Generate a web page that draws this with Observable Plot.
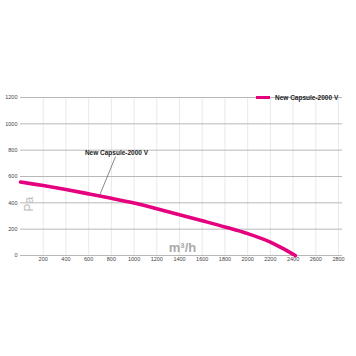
<!DOCTYPE html>
<html><head><meta charset="utf-8">
<script src="https://cdn.jsdelivr.net/npm/d3@7"></script>
<script src="https://cdn.jsdelivr.net/npm/@observablehq/plot@0.6"></script>
<style>
body{margin:0;background:#fff;font-family:"Liberation Sans Narrow","Liberation Sans",sans-serif;}
#wrap{position:relative;width:356px;height:356px;}
#legend{position:absolute;left:256px;top:94px;display:flex;align-items:center;font:bold 6.5px "Liberation Sans",sans-serif;color:#222;}
#legend span.sw{display:inline-block;width:14px;height:3px;background:#e5007d;margin-right:5px;}
</style></head>
<body><div id="wrap"><div id="legend"><span class="sw"></span><span id="legtext"></span></div></div>
<script>
const seriesName = "New Capsule-2000 V";
const flow = [0, 200, 400, 600, 800, 1000, 1200, 1400, 1600, 1800, 2000, 2200, 2300, 2420];
const pressure = [558, 531, 501, 468, 434, 398, 355, 310, 264, 217, 166, 102, 58, 0];
const xTicks = [200, 400, 600, 800, 1000, 1200, 1400, 1600, 1800, 2000, 2200, 2400, 2600, 2800];
const yTicks = [0, 200, 400, 600, 800, 1000, 1200];
const annotationFlow = 700;
const yLabel = "Pa";
const xLabel = "m³/h";

const data = flow.map((f, i) => ({flow: f, pressure: pressure[i]}));
const annP = d3.scaleLinear().domain(flow).range(pressure)(annotationFlow);
const magenta = "#e5007d";

document.getElementById("legtext").textContent = seriesName;

const annotate = (index, {x, y}) => {
  const px = x(annotationFlow), py = y(annP);
  const g = d3.create("svg:g");
  g.append("line").attr("x1", px).attr("y1", py).attr("x2", px + 16).attr("y2", py - 39)
    .attr("stroke", "#555").attr("stroke-width", 0.7);
  g.append("text").attr("x", px + 17).attr("y", py - 41).text(seriesName)
    .attr("font-family", "Liberation Sans, sans-serif").attr("font-weight", "bold")
    .attr("font-size", 6.5).attr("fill", "#222");
  return g.node();
};

const chart = Plot.plot({
  width: 356, height: 356,
  marginLeft: 20, marginRight: 14, marginTop: 97, marginBottom: 101,
  style: {fontFamily: "Liberation Sans Narrow, Liberation Sans, sans-serif", background: "transparent"},
  x: {domain: [0, 2835]},
  y: {domain: [0, 1200]},
  marks: [
    Plot.gridX(xTicks, {stroke: "#e3e3e3", strokeOpacity: 1, strokeWidth: 0.8}),
    Plot.gridY(yTicks, {stroke: "#b8b8b8", strokeOpacity: 1, strokeWidth: 1}),
    Plot.axisX(xTicks, {tickSize: 0, tickPadding: 2, fontSize: 5.5, fill: "#444", label: null, tickFormat: d3.format("d")}),
    Plot.axisY(yTicks, {tickSize: 0, tickPadding: 3, fontSize: 5.5, fill: "#444", label: null, tickFormat: d3.format("d")}),
    Plot.text([yLabel], {frameAnchor: "left", dx: 9, dy: 35, rotate: -90, text: d => d, fontSize: 12, fill: "#bbb"}),
    Plot.text([xLabel], {frameAnchor: "bottom", dx: 1, dy: -4, lineAnchor: "bottom", text: d => d, fontSize: 13, fontWeight: "bold", fill: "#aaa", fontFamily: "Liberation Sans, sans-serif"}),
    Plot.line(data, {x: "flow", y: "pressure", stroke: magenta, strokeWidth: 3.6, curve: "catmull-rom"}),
    annotate
  ]
});
document.getElementById("wrap").prepend(chart);
chart.style.position = "absolute"; chart.style.left = "0"; chart.style.top = "0";
</script></body></html>
